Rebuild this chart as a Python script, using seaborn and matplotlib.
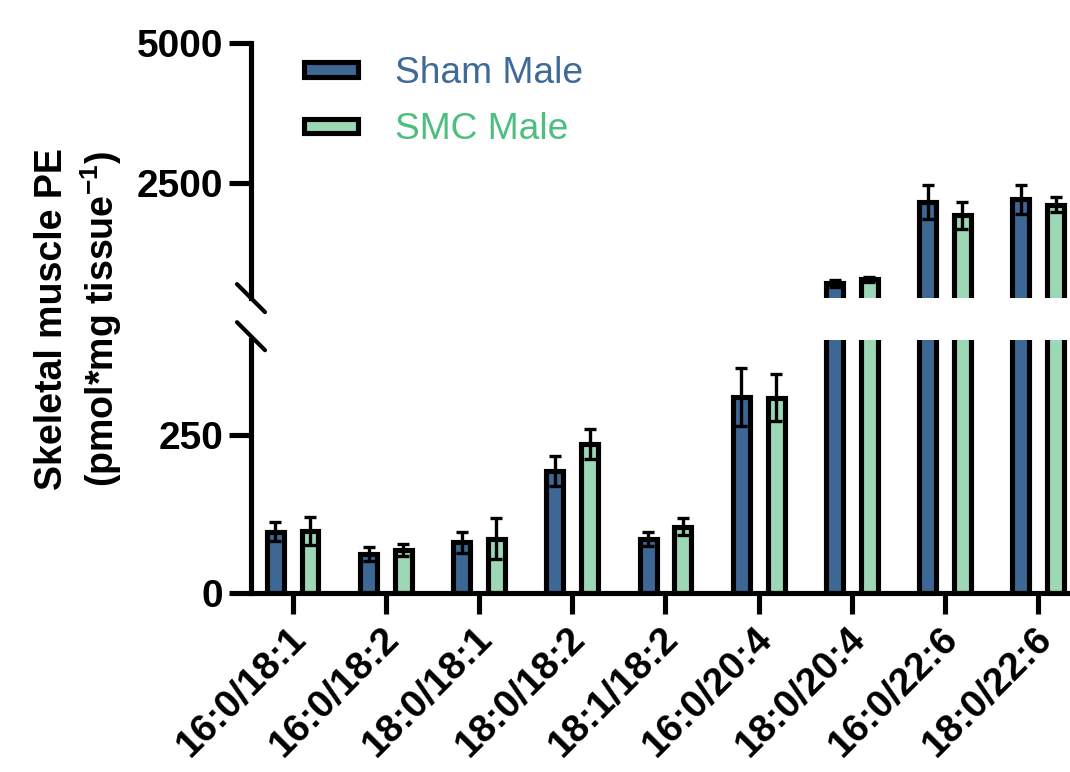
import numpy as np
import pandas as pd
import matplotlib
matplotlib.use("Agg")
import matplotlib.pyplot as plt
import seaborn as sns
from matplotlib.patches import Rectangle
from matplotlib.lines import Line2D
from matplotlib.transforms import ScaledTranslation

# PE molecular species (sn-1/sn-2 acyl chains)
species = ["16:0/18:1", "16:0/18:2", "18:0/18:1", "18:0/18:2", "18:1/18:2",
           "16:0/20:4", "18:0/20:4", "16:0/22:6", "18:0/22:6"]
groups = ["Sham Male", "SMC Male"]

# mean and SEM, pmol per mg tissue
sham_mean = [97, 62, 80, 193, 86, 310, 714, 2166, 2216]
sham_sem = [15, 11, 17, 23, 11, 46, 60, 305, 258]
smc_mean = [98, 68, 86, 236, 105, 309, 786, 1926, 2120]
smc_sem = [22, 9, 32, 24, 13, 37, 48, 235, 132]

lower_ticks = [0, 250]
upper_ticks = [2500, 5000]

fill_colors = ["#3d6895", "#9dd8b6"]
text_colors = ["#3e6a98", "#4cbf7f"]

sns.set_theme(style="white")
plt.rcParams["font.family"] = ["Liberation Sans", "DejaVu Sans"]
plt.rcParams["mathtext.fontset"] = "custom"
plt.rcParams["mathtext.rm"] = "Liberation Sans:bold"
plt.rcParams["mathtext.bf"] = "Liberation Sans:bold"
plt.rcParams["mathtext.default"] = "bf"
for key in ("text.color", "axes.labelcolor", "xtick.color", "ytick.color",
            "axes.edgecolor"):
    plt.rcParams[key] = "black"

df = pd.DataFrame({
    "species": species * 2,
    "group": [groups[0]] * len(species) + [groups[1]] * len(species),
    "mean": sham_mean + smc_mean,
    "sem": sham_sem + smc_sem,
})

W, H = 1070, 772
fig = plt.figure(figsize=(W / 100, H / 100), dpi=100, facecolor="white")


def box(left, top, right, bottom):
    return [left / W, 1 - bottom / H, (right - left) / W, (bottom - top) / H]


ax_hi = fig.add_axes(box(251, 43.3, 1070, 298.1))
ax_lo = fig.add_axes(box(251, 340.2, 1070, 593))

LW = 3.7
for ax in (ax_hi, ax_lo):
    sns.barplot(data=df, x="species", y="mean", hue="group", order=species,
                hue_order=groups, palette=fill_colors, saturation=1,
                width=0.744, gap=0.51, edgecolor="black", linewidth=LW,
                errorbar=None, legend=False, ax=ax)
    for container, grp in zip(ax.containers, groups):
        sub = df[df["group"] == grp].set_index("species").loc[species]
        xs = [b.get_x() + b.get_width() / 2 for b in container]
        ax.errorbar(xs, sub["mean"], yerr=sub["sem"], fmt="none",
                    ecolor="black", elinewidth=2.4, capsize=4, capthick=2.4,
                    zorder=4)
    ax.set_xlim(-0.447, 8.34)
    ax.set_xlabel("")
    ax.set_ylabel("")
    ax.set_facecolor("none")
    for side in ("top", "right"):
        ax.spines[side].set_visible(False)
    ax.spines["left"].set_linewidth(LW)
    ax.spines["left"].set_color("black")
    ax.tick_params(axis="y", direction="out", length=15.5, width=LW,
                   color="black", labelcolor="black", pad=4.5, labelsize=28,
                   left=True)

ax_lo.set_ylim(0, 400)
ax_lo.set_yticks(lower_ticks)
ax_lo.set_yticklabels([str(t) for t in lower_ticks], fontweight="bold")
ax_hi.set_ylim(450, 5000)
ax_hi.set_yticks(upper_ticks)
ax_hi.set_yticklabels([str(t) for t in upper_ticks], fontweight="bold")

ax_hi.spines["bottom"].set_visible(False)
ax_hi.tick_params(axis="x", bottom=False, labelbottom=False)

ax_lo.spines["bottom"].set_linewidth(LW)
ax_lo.spines["bottom"].set_color("black")
ax_lo.tick_params(axis="x", direction="out", length=15, width=LW,
                  color="black", labelcolor="black", pad=5, bottom=True)
ax_lo.set_xticks(range(len(species)))
ax_lo.set_xticklabels(species, rotation=45, ha="right", va="top",
                      rotation_mode="anchor", fontsize=28, fontweight="bold")
shift = ScaledTranslation(-5 / 100, 0, fig.dpi_scale_trans)
for lab in ax_lo.get_xticklabels():
    lab.set_transform(lab.get_transform() + shift)

# axis break marks
dx = 14 / 819
dy_hi = 14 / 254.8
ax_hi.add_line(Line2D([-dx, dx], [dy_hi, -dy_hi], transform=ax_hi.transAxes,
                      color="black", lw=3, clip_on=False))
dy_lo = 14 / 252.8
c_lo = 1 + 4 / 252.8
ax_lo.add_line(Line2D([-dx, dx], [c_lo + dy_lo, c_lo - dy_lo],
                      transform=ax_lo.transAxes, color="black", lw=3,
                      clip_on=False))

# legend
for i, (lab, fc, tc) in enumerate(zip(groups, fill_colors, text_colors)):
    cy = 69.7 + i * 56.3
    fig.add_artist(Rectangle((304.2 / W, 1 - (cy + 7.2) / H), 54 / W, 14.4 / H,
                             transform=fig.transFigure, facecolor=fc,
                             edgecolor="black", lw=LW))
    fig.text(395 / W, 1 - (83.3 + i * 55.7) / H, lab, color=tc, fontsize=26.7,
             ha="left", va="baseline")

fig.text(79 / W, 1 - 319 / H, "Skeletal muscle PE\n(pmol*mg tissue$^{-1}$)",
         rotation=90, ha="center", va="center", fontsize=27, color="black",
         fontweight="bold", multialignment="center", linespacing=1.25)

fig.savefig("out.png", dpi=100, facecolor="white")
